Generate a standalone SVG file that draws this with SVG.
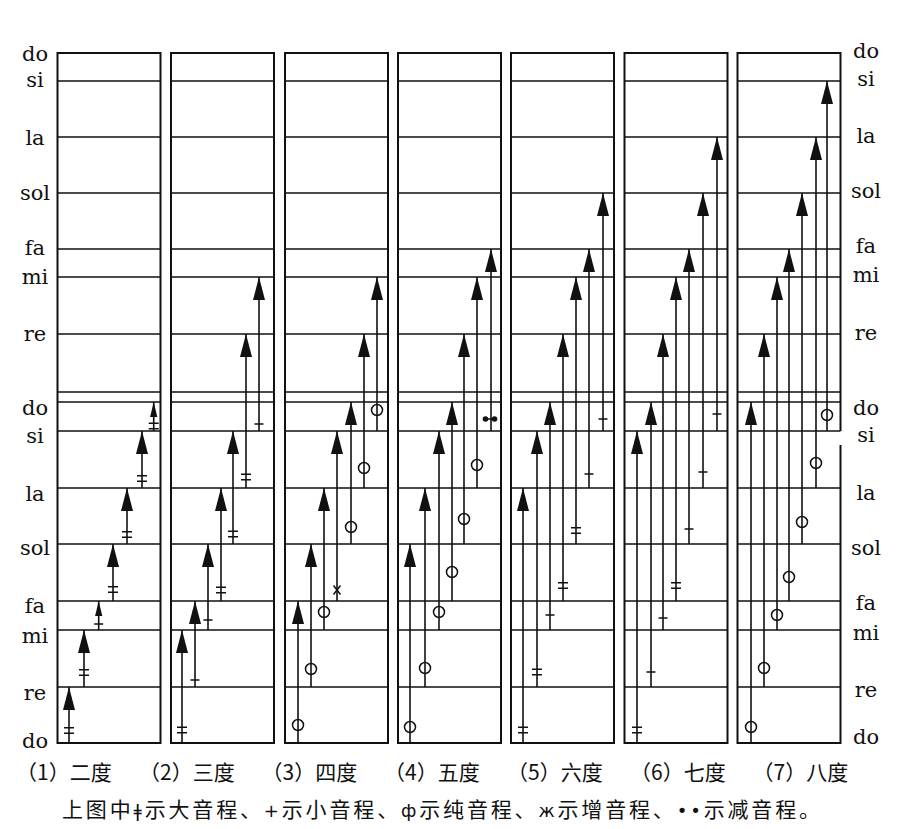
<svg xmlns="http://www.w3.org/2000/svg" xmlns:xlink="http://www.w3.org/1999/xlink" width="900" height="829" viewBox="0 0 900 829">
<style>
.frame{fill:none;stroke:#111;stroke-width:2}
.hl{fill:none;stroke:#111;stroke-width:1.5}
.arr{fill:none;stroke:#111;stroke-width:1.6;marker-end:url(#hd)}
.sm{marker-end:url(#hs)}
.tk{fill:none;stroke:#111;stroke-width:1.5}
.ring{fill:none;stroke:#111;stroke-width:1.5}
.dot{fill:#111}
.lbl{font-family:"DejaVu Serif","Liberation Serif",serif;font-size:21px;fill:#111;text-anchor:middle}
.cap{font-family:"Noto Sans CJK SC","Noto Sans",sans-serif;font-size:21px;fill:#111}
.sym{font-family:"DejaVu Sans","Liberation Sans",sans-serif;font-size:18px}
</style>
<defs>
<marker id="hd" viewBox="-24 -7 25 14" refX="0" refY="0" markerWidth="25" markerHeight="14" markerUnits="userSpaceOnUse" orient="auto"><path d="M0,0 L-23,-6 L-23,6 Z" fill="#111"/></marker>
<marker id="hs" viewBox="-16 -4 17 8" refX="0" refY="0" markerWidth="17" markerHeight="8" markerUnits="userSpaceOnUse" orient="auto"><path d="M0,0 L-15,-3.6 L-15,3.6 Z" fill="#111"/></marker>
<path id="hlines" class="hl" d="M0,81H103M0,137H103M0,193H103M0,249H103M0,277H103M0,334H103M0,392H103M0,402H103M0,431H103M0,488H103M0,544H103M0,601H103M0,630H103M0,687H103"/>
<rect id="box" class="frame" x="0" y="53" width="103" height="690"/>
<path id="maj" class="tk" d="M-5,-2.7H5M-5,2.7H5"/>
<path id="min" class="tk" d="M-4.5,0H4.5"/>
<circle id="perf" class="ring" r="5.5"/>
<path id="aug" class="tk" d="M-3.5,-4.5L3.5,4.5M3.5,-4.5L-3.5,4.5"/>
<g id="dim"><circle class="dot" cx="-4.5" cy="0" r="2.8"/><circle class="dot" cx="4.5" cy="0" r="2.8"/><path class="tk" d="M-4.5,0H4.5"/></g>
</defs>

<g id="labels-left" class="lbl">
<text x="35" y="61">do</text><text x="35" y="87">si</text><text x="35" y="145">la</text><text x="35" y="200">sol</text><text x="35" y="255">fa</text><text x="35" y="284">mi</text><text x="35" y="341">re</text>
<text x="35" y="415">do</text><text x="35" y="443">si</text><text x="35" y="501">la</text><text x="35" y="555">sol</text><text x="35" y="613">fa</text><text x="35" y="643">mi</text><text x="35" y="700">re</text><text x="35" y="748">do</text>
</g>
<g id="labels-right" class="lbl">
<text x="866" y="58">do</text><text x="866" y="86">si</text><text x="866" y="143">la</text><text x="866" y="198">sol</text><text x="866" y="253">fa</text><text x="866" y="282">mi</text><text x="866" y="340">re</text>
<text x="866" y="415">do</text><text x="866" y="442">si</text><text x="866" y="500">la</text><text x="866" y="555">sol</text><text x="866" y="610">fa</text><text x="866" y="640">mi</text><text x="866" y="697">re</text><text x="866" y="744">do</text>
</g>

<g id="panel-1"><use href="#hlines" x="57.5"/><use href="#box" x="57.5"/></g>
<g id="panel-2"><use href="#hlines" x="171"/><use href="#box" x="171"/></g>
<g id="panel-3"><use href="#hlines" x="285"/><use href="#box" x="285"/></g>
<g id="panel-4"><use href="#hlines" x="398"/><use href="#box" x="398"/></g>
<g id="panel-5"><use href="#hlines" x="511"/><use href="#box" x="511"/></g>
<g id="panel-6"><use href="#hlines" x="624.5"/><use href="#box" x="624.5"/></g>
<g id="panel-7"><use href="#hlines" x="737.5"/><path class="frame" d="M840.5,431V53H737.5V743H840.5V445"/></g>

<g id="connectors">
<path class="arr" d="M69,743V687"/>
<path class="arr" d="M84,687V630"/>
<path class="arr sm" d="M98.7,630V601"/>
<path class="arr" d="M113,601V544"/>
<path class="arr" d="M127,544V488"/>
<path class="arr" d="M142,488V431"/>
<path class="arr sm" d="M153.7,431V402"/>

<path class="arr" d="M182,743V630"/>
<path class="arr" d="M195,687V601"/>
<path class="arr" d="M208,630V544"/>
<path class="arr" d="M221,601V488"/>
<path class="arr" d="M233,544V431"/>
<path class="arr" d="M246,488V334"/>
<path class="arr" d="M259,431V277"/>

<path class="arr" d="M298,743V601"/>
<path class="arr" d="M311,687V544"/>
<path class="arr" d="M324,630V488"/>
<path class="arr" d="M337,601V431"/>
<path class="arr" d="M351,544V402"/>
<path class="arr" d="M364,488V334"/>
<path class="arr" d="M377,431V277"/>

<path class="arr" d="M410,743V544"/>
<path class="arr" d="M425,687V488"/>
<path class="arr" d="M439,630V431"/>
<path class="arr" d="M452,601V402"/>
<path class="arr" d="M464,544V334"/>
<path class="arr" d="M477,488V277"/>
<path class="arr" d="M491,431V249"/>

<path class="arr" d="M523,743V488"/>
<path class="arr" d="M537,687V431"/>
<path class="arr" d="M550,630V402"/>
<path class="arr" d="M563,601V334"/>
<path class="arr" d="M576,544V277"/>
<path class="arr" d="M589,488V249"/>
<path class="arr" d="M603,431V193"/>

<path class="arr" d="M637,743V431"/>
<path class="arr" d="M651,687V402"/>
<path class="arr" d="M663,630V334"/>
<path class="arr" d="M676,601V277"/>
<path class="arr" d="M689,544V249"/>
<path class="arr" d="M703,488V193"/>
<path class="arr" d="M717,431V137"/>

<path class="arr" d="M751,743V402"/>
<path class="arr" d="M764,687V334"/>
<path class="arr" d="M777,630V277"/>
<path class="arr" d="M789,601V249"/>
<path class="arr" d="M802,544V193"/>
<path class="arr" d="M816,488V137"/>
<path class="arr" d="M827,431V81"/>
</g>

<g id="interval-marks">
<use href="#maj" x="69" y="730.5"/>
<use href="#maj" x="84" y="672.5"/>
<use href="#min" x="98.7" y="624"/>
<use href="#maj" x="113" y="589.5"/>
<use href="#maj" x="127" y="534.5"/>
<use href="#maj" x="142" y="478.5"/>
<use href="#maj" x="153.7" y="426"/>

<use href="#maj" x="182" y="730"/>
<use href="#min" x="195" y="680"/>
<use href="#min" x="208" y="620"/>
<use href="#maj" x="221" y="590"/>
<use href="#maj" x="233" y="534"/>
<use href="#maj" x="246" y="477"/>
<use href="#min" x="259" y="424"/>

<use href="#perf" x="298" y="725"/>
<use href="#perf" x="311" y="669"/>
<use href="#perf" x="324" y="612"/>
<use href="#aug" x="337" y="590"/>
<use href="#perf" x="351" y="527"/>
<use href="#perf" x="364" y="468"/>
<use href="#perf" x="377" y="410"/>

<use href="#perf" x="410" y="727"/>
<use href="#perf" x="425" y="668"/>
<use href="#perf" x="439" y="612"/>
<use href="#perf" x="452" y="572"/>
<use href="#perf" x="464" y="519"/>
<use href="#perf" x="477" y="465"/>
<use href="#dim" x="490" y="419"/>

<use href="#maj" x="523" y="730"/>
<use href="#maj" x="537" y="672"/>
<use href="#min" x="550" y="615"/>
<use href="#maj" x="563" y="585.5"/>
<use href="#maj" x="576" y="530.5"/>
<use href="#min" x="589" y="474"/>
<use href="#min" x="603" y="419"/>

<use href="#maj" x="637" y="730"/>
<use href="#min" x="651" y="672"/>
<use href="#min" x="663" y="618"/>
<use href="#maj" x="676" y="585.5"/>
<use href="#min" x="689" y="529"/>
<use href="#min" x="703" y="472"/>
<use href="#min" x="717" y="414"/>

<use href="#perf" x="751" y="727"/>
<use href="#perf" x="764" y="668"/>
<use href="#perf" x="777" y="615"/>
<use href="#perf" x="789" y="577"/>
<use href="#perf" x="802" y="522"/>
<use href="#perf" x="816" y="463"/>
<use href="#perf" x="827" y="415"/>
</g>

<g id="caption">
<text class="cap" y="780"><tspan x="16">（1）二度</tspan><tspan x="139">（2）三度</tspan><tspan x="261.5">（3）四度</tspan><tspan x="384">（4）五度</tspan><tspan x="507">（5）六度</tspan><tspan x="630">（6）七度</tspan><tspan x="752.5">（7）八度</tspan></text>
<text class="cap" x="62" y="817" textLength="758" lengthAdjust="spacing">上图中<tspan class="sym">ǂ</tspan>示大音程、<tspan class="sym">+</tspan>示小音程、<tspan class="sym">ф</tspan>示纯音程、<tspan class="sym">ж</tspan>示增音程、<tspan class="sym">••</tspan>示减音程。</text>
</g>
</svg>
